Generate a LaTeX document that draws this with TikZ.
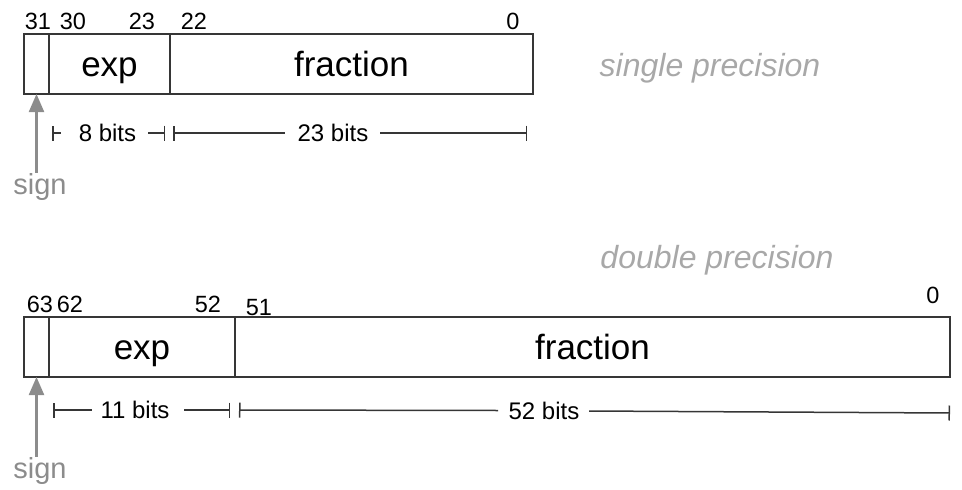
\documentclass[tikz,border=0pt]{standalone}
\usepackage{fontspec}
\setmainfont{Liberation Sans}
\usetikzlibrary{arrows.meta}
\definecolor{ln}{HTML}{363636}
\definecolor{sg}{HTML}{8C8C8C}
\definecolor{pr}{HTML}{A8A8A8}
\begin{document}
\begin{tikzpicture}[x=1pt,y=-1pt,
  cell/.style={draw=ln, line width=1.7pt, inner sep=0pt, outer sep=0pt, anchor=north west,
    minimum height=60pt, text height=25pt, text depth=0pt, font=\fontsize{35}{38}\selectfont},
  bitno/.style={anchor=base, inner sep=0pt, font=\fontsize{23.5}{26}\selectfont, text=black},
  bitlab/.style={anchor=base, inner sep=0pt, font=\fontsize{24}{26}\selectfont, text=black},
  signlab/.style={anchor=base, inner sep=0pt, font=\fontsize{29}{32}\selectfont, text=sg},
  prec/.style={anchor=base, inner sep=0pt, font=\itshape\fontsize{32}{36}\selectfont, text=pr},
  sgnarrow/.style={draw=sg, line width=2.2pt, -{Triangle[length=18pt,width=15pt]}},
  dim/.style={draw=ln, line width=1.5pt},
  dimL/.style={dim, {Bar[width=15pt,line width=1.5pt]}-},
  dimR/.style={dim, -{Bar[width=15pt,line width=1.5pt]}}
]
\useasboundingbox (0,0) rectangle (962,490);

% ---------- single precision ----------
\node[cell, minimum width=25pt] (s1) at (24,34) {};
\node[cell, minimum width=121pt] (e1) at (49,34) {exp};
\node[cell, minimum width=363pt] (f1) at (170,34) {fraction};

\node[bitno] (n31) at (38,29) {31};
\node[bitno] (n30) at (73,29) {30};
\node[bitno] (n23) at (142,29) {23};
\node[bitno] (n22) at (194,29) {22};
\node[bitno] (n0a) at (513,29) {0};

\node[prec] (sp) at (710,76) {single precision};

\node[signlab] (sg1) at (40,194) {sign};
\draw[sgnarrow] (sg1.north -| s1.south) -- (s1.south);

\coordinate (a1) at (52,133);  \coordinate (a1e) at (61,133);
\coordinate (a2) at (148,133); \coordinate (a2e) at (165,133);
\node[bitlab] (b8) at (107.5,141) {8 bits};
\draw[dimL] (a1) -- (a1e);
\draw[dimR] (a2) -- (a2e);

\coordinate (c1) at (173,133); \coordinate (c1e) at (285,133);
\coordinate (c2) at (380,133); \coordinate (c2e) at (527,133);
\node[bitlab] (b23) at (333,141) {23 bits};
\draw[dimL] (c1) -- (c1e);
\draw[dimR] (c2) -- (c2e);

% ---------- double precision ----------
\node[cell, minimum width=25pt] (s2) at (24,317) {};
\node[cell, minimum width=186pt] (e2) at (49,317) {exp};
\node[cell, minimum width=715pt] (f2) at (235,317) {fraction};

\node[bitno] (n63) at (40,312) {63};
\node[bitno] (n62) at (70,312) {62};
\node[bitno] (n52) at (208,312) {52};
\node[bitno] (n51) at (259,315) {51};
\node[bitno] (n0b) at (933,303) {0};

\node[prec] (dp) at (717,268) {double precision};

\node[signlab] (sg2) at (40,478) {sign};
\draw[sgnarrow] (sg2.north -| s2.south) -- (s2.south);

\coordinate (d1) at (53,410);  \coordinate (d1e) at (92,410);
\coordinate (d2) at (184,410); \coordinate (d2e) at (230,410);
\node[bitlab] (b11) at (135,418) {11 bits};
\draw[dimL] (d1) -- (d1e);
\draw[dimR] (d2) -- (d2e);

\coordinate (g1) at (239,410); \coordinate (g1e) at (498,410.5);
\coordinate (g2) at (589,411); \coordinate (g2e) at (950,413);
\node[bitlab] (b52) at (544,419) {52 bits};
\draw[dimL] (g1) -- (g1e);
\draw[dimR] (g2) -- (g2e);
\end{tikzpicture}
\end{document}
